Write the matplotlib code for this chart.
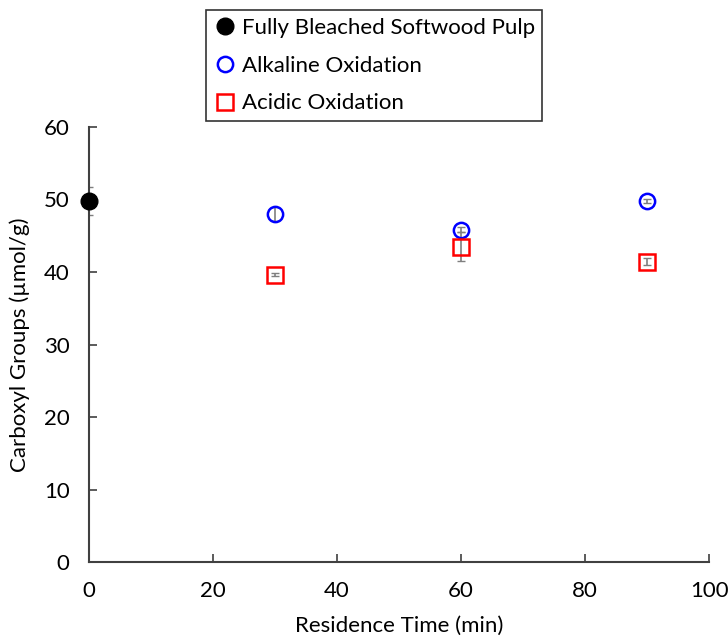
import matplotlib
matplotlib.use("Agg")
import matplotlib.pyplot as plt

plt.rcParams['font.family'] = ['Lato', 'DejaVu Sans']

# Data
ref_x = [0]
ref_y = [49.8]
ref_err = [1.9]

alk_x = [30, 60, 90]
alk_y = [48.0, 45.8, 49.8]
alk_err = [1.0, 0.35, 0.3]

acid_x = [30, 60, 90]
acid_y = [39.6, 43.5, 41.4]
acid_err = [0.2, 2.0, 0.5]

xticks = [0, 20, 40, 60, 80, 100]
yticks = [0, 10, 20, 30, 40, 50, 60]

fig = plt.figure(figsize=(7.28, 6.41), dpi=100)
ax = fig.add_axes([0.1223, 0.1232, 0.8517, 0.6787])

ecol = '#7f7f7f'
ax.errorbar(ref_x, ref_y, yerr=ref_err, fmt='none', ecolor=ecol, capsize=3, elinewidth=1.2, zorder=2)
h1, = ax.plot(ref_x, ref_y, 'o', color='black', markersize=12, linestyle='none', zorder=3,
              label='Fully Bleached Softwood Pulp', clip_on=False)
ax.errorbar(alk_x, alk_y, yerr=alk_err, fmt='none', ecolor=ecol, capsize=3, elinewidth=1.2, zorder=2)
h2, = ax.plot(alk_x, alk_y, 'o', mfc='none', mec='#0000ff', mew=1.8, markersize=11, linestyle='none',
              zorder=3, label='Alkaline Oxidation')
ax.errorbar(acid_x, acid_y, yerr=acid_err, fmt='none', ecolor=ecol, capsize=3, elinewidth=1.2, zorder=2)
h3, = ax.plot(acid_x, acid_y, 's', mfc='none', mec='#ff0000', mew=1.8, markersize=11, linestyle='none',
              zorder=3, label='Acidic Oxidation')

ax.set_xlim(0, 100)
ax.set_ylim(0, 60)
ax.set_xticks(xticks)
ax.set_yticks(yticks)
ax.tick_params(direction='in', length=6, width=1.2, color='#404040', labelsize=16, pad=14)
for s in ['top', 'right']:
    ax.spines[s].set_visible(False)
for s in ['left', 'bottom']:
    ax.spines[s].set_color('#404040')
    ax.spines[s].set_linewidth(1.5)

ax.set_xlabel('Residence Time (min)', fontsize=16, labelpad=10)
ax.set_ylabel('Carboxyl Groups (µmol/g)', fontsize=16, labelpad=10)

leg = fig.legend(handles=[h1, h2, h3], loc='upper left', bbox_to_anchor=(206/728, 1 - 10/641),
                 borderaxespad=0, frameon=True, fancybox=False, edgecolor='black', fontsize=16,
                 handletextpad=0.25, borderpad=0.35, labelspacing=0.8, handlelength=1.0)
leg.get_frame().set_linewidth(1.2)

fig.savefig('out.png', dpi=100)
